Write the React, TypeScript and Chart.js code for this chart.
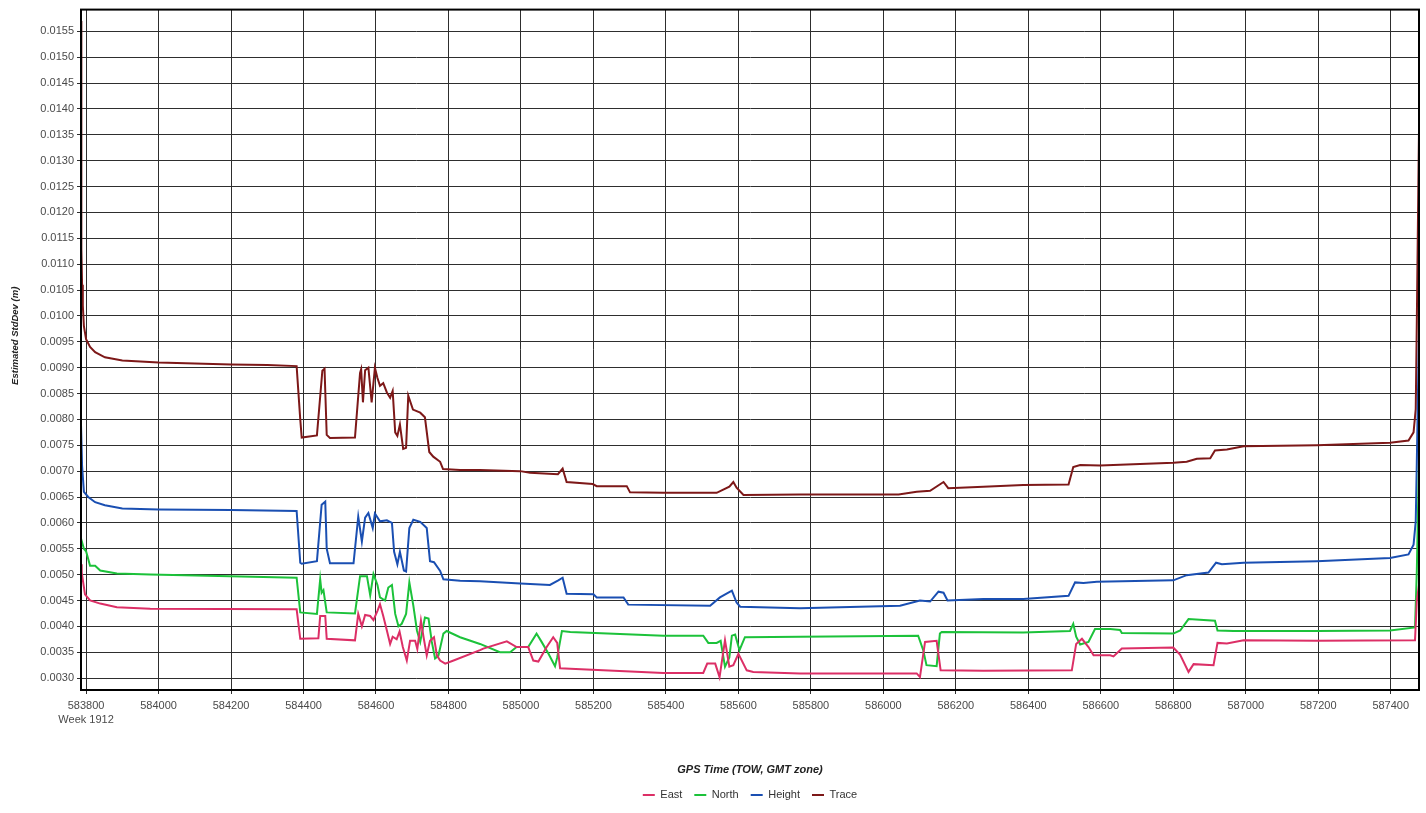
import React, { useEffect, useRef } from 'react';
import { Chart, registerables } from 'chart.js';

Chart.register(...registerables);

// ---- data (GPS time of week, seconds) ----
const traceTime = [583786, 583787, 583789, 583791, 583794, 583800, 583811, 583825, 583852, 583900, 584000, 584100, 584200, 584300, 584381, 584391, 584395, 584437, 584452, 584458, 584464, 584473, 584542, 584556, 584559, 584564, 584570, 584579, 584588, 584597, 584604, 584611, 584620, 584630, 584639, 584646, 584653, 584659, 584666, 584675, 584683, 584689, 584702, 584722, 584735, 584747, 584758, 584777, 584785, 584832, 584887, 584998, 585025, 585102, 585115, 585126, 585198, 585209, 585292, 585301, 585393, 585540, 585575, 585586, 585595, 585614, 585770, 586042, 586092, 586129, 586166, 586179, 586276, 586386, 586511, 586524, 586543, 586598, 586800, 586837, 586865, 586902, 586915, 586948, 586994, 587196, 587398, 587449, 587463, 587469, 587472, 587476, 587478];
const traceValue = [0.0157, 0.0113, 0.0106, 0.0102, 0.0098, 0.00955, 0.0094, 0.0093, 0.0092, 0.00914, 0.0091, 0.00908, 0.00906, 0.00905, 0.00903, 0.0080, 0.00765, 0.00769, 0.00894, 0.00898, 0.0077, 0.00764, 0.00765, 0.0089, 0.00897, 0.00833, 0.00895, 0.009, 0.00833, 0.009, 0.0088, 0.00865, 0.0087, 0.00852, 0.00842, 0.00855, 0.00775, 0.00768, 0.0079, 0.00743, 0.00745, 0.00846, 0.00819, 0.00813, 0.00804, 0.00737, 0.00728, 0.00718, 0.00704, 0.00702, 0.00702, 0.007, 0.00697, 0.00694, 0.00705, 0.00679, 0.00675, 0.00671, 0.00671, 0.00659, 0.00658, 0.00658, 0.0067, 0.00679, 0.00668, 0.00654, 0.00655, 0.00655, 0.0066, 0.00662, 0.00679, 0.00667, 0.0067, 0.00673, 0.00674, 0.00708, 0.00712, 0.00711, 0.00716, 0.00718, 0.00724, 0.00725, 0.0074, 0.00742, 0.00748, 0.0075, 0.00755, 0.00759, 0.00775, 0.0082, 0.0099, 0.0124, 0.0136];

const heightTime = [583786, 583789, 583794, 583806, 583825, 583852, 583900, 584000, 584200, 584381, 584391, 584395, 584437, 584450, 584460, 584464, 584473, 584538, 584551, 584561, 584570, 584579, 584591, 584597, 584611, 584630, 584644, 584650, 584659, 584666, 584677, 584683, 584692, 584703, 584722, 584740, 584749, 584760, 584777, 584786, 584832, 584887, 584998, 585080, 585103, 585115, 585126, 585200, 585209, 585283, 585296, 585522, 585549, 585582, 585595, 585605, 585770, 586046, 586101, 586129, 586152, 586166, 586177, 586276, 586386, 586511, 586529, 586552, 586589, 586800, 586837, 586897, 586918, 586934, 586994, 587196, 587398, 587449, 587463, 587469, 587472, 587478];
const heightValue = [0.0079, 0.0071, 0.0066, 0.0065, 0.0064, 0.00634, 0.00628, 0.00626, 0.00625, 0.00623, 0.00523, 0.00521, 0.00526, 0.00635, 0.00641, 0.0055, 0.00522, 0.00522, 0.00612, 0.00564, 0.0061, 0.00619, 0.0059, 0.00618, 0.00603, 0.00605, 0.006, 0.00544, 0.0052, 0.00544, 0.00508, 0.00506, 0.0059, 0.00606, 0.00602, 0.0059, 0.00526, 0.00524, 0.00507, 0.00491, 0.00488, 0.00487, 0.00483, 0.0048, 0.00489, 0.00494, 0.00463, 0.00462, 0.00456, 0.00456, 0.00442, 0.0044, 0.00456, 0.00469, 0.00446, 0.00438, 0.00435, 0.0044, 0.0045, 0.00448, 0.00467, 0.00465, 0.0045, 0.00453, 0.00453, 0.00459, 0.00485, 0.00484, 0.00486, 0.00489, 0.00499, 0.00504, 0.00523, 0.0052, 0.00523, 0.00526, 0.00532, 0.00539, 0.00558, 0.00603, 0.00718, 0.0097];

const northTime = [583786, 583794, 583800, 583811, 583825, 583839, 583885, 583977, 584197, 584381, 584391, 584437, 584446, 584450, 584455, 584464, 584542, 584556, 584575, 584584, 584593, 584604, 584611, 584625, 584634, 584644, 584653, 584662, 584671, 584683, 584692, 584703, 584713, 584722, 584735, 584745, 584754, 584763, 584772, 584786, 584795, 584832, 584887, 584942, 584970, 584988, 585020, 585043, 585057, 585076, 585094, 585100, 585113, 585136, 585393, 585503, 585517, 585540, 585551, 585563, 585575, 585582, 585591, 585603, 585618, 585770, 586096, 586110, 586119, 586147, 586156, 586161, 586386, 586515, 586524, 586532, 586543, 586566, 586584, 586626, 586653, 586658, 586800, 586819, 586842, 586915, 586922, 586966, 587196, 587398, 587467, 587472, 587478];
const northValue = [0.0057, 0.0055, 0.00545, 0.00517, 0.00517, 0.00508, 0.00502, 0.005, 0.00497, 0.00494, 0.00427, 0.00424, 0.00491, 0.00465, 0.0047, 0.00427, 0.00425, 0.00497, 0.00497, 0.0046, 0.00501, 0.0048, 0.00456, 0.0045, 0.00475, 0.0048, 0.00424, 0.004, 0.00405, 0.00424, 0.00485, 0.0044, 0.00392, 0.0037, 0.00417, 0.00415, 0.0037, 0.00338, 0.00343, 0.00386, 0.00391, 0.00379, 0.00366, 0.0035, 0.0035, 0.0036, 0.0036, 0.00386, 0.0037, 0.00347, 0.00323, 0.0034, 0.00391, 0.00389, 0.00382, 0.00382, 0.00368, 0.00368, 0.00372, 0.00322, 0.0034, 0.00382, 0.00384, 0.00354, 0.00379, 0.0038, 0.00382, 0.00354, 0.00325, 0.00323, 0.00386, 0.00389, 0.00388, 0.00391, 0.00405, 0.0038, 0.00365, 0.0037, 0.00395, 0.00395, 0.00393, 0.00387, 0.00386, 0.00392, 0.00414, 0.00411, 0.00392, 0.00391, 0.00391, 0.00392, 0.00398, 0.00507, 0.0072];

const eastTime = [583786, 583788, 583797, 583811, 583839, 583885, 583977, 584381, 584391, 584441, 584446, 584460, 584464, 584542, 584551, 584561, 584570, 584584, 584593, 584604, 584611, 584620, 584630, 584639, 584646, 584657, 584665, 584674, 584685, 584694, 584708, 584714, 584724, 584731, 584740, 584749, 584760, 584768, 584777, 584791, 584814, 584887, 584896, 584961, 584988, 585020, 585034, 585048, 585071, 585089, 585100, 585108, 585136, 585393, 585503, 585514, 585536, 585548, 585563, 585575, 585586, 585600, 585623, 585641, 585770, 586092, 586101, 586115, 586147, 586158, 586276, 586520, 586532, 586548, 586566, 586580, 586626, 586635, 586658, 586800, 586819, 586842, 586856, 586911, 586922, 586948, 586994, 587196, 587467, 587472, 587478];
const eastValue = [0.0052, 0.00504, 0.00462, 0.0045, 0.00444, 0.00437, 0.00434, 0.00433, 0.00376, 0.00377, 0.0042, 0.0042, 0.00376, 0.00373, 0.00424, 0.004, 0.00422, 0.0042, 0.00412, 0.0043, 0.00443, 0.0042, 0.00392, 0.00366, 0.0038, 0.00375, 0.0039, 0.0036, 0.00334, 0.00372, 0.00372, 0.00356, 0.00411, 0.0038, 0.00344, 0.00372, 0.00379, 0.00344, 0.00334, 0.00328, 0.00334, 0.00354, 0.00357, 0.00371, 0.0036, 0.0036, 0.00334, 0.00332, 0.0036, 0.00379, 0.00368, 0.00319, 0.00318, 0.0031, 0.0031, 0.00328, 0.00328, 0.00302, 0.00373, 0.00322, 0.00325, 0.00347, 0.00315, 0.00312, 0.00309, 0.00309, 0.00302, 0.0037, 0.00372, 0.00315, 0.00314, 0.00315, 0.00366, 0.00376, 0.0036, 0.00344, 0.00344, 0.00342, 0.00357, 0.00359, 0.00345, 0.00312, 0.00327, 0.00325, 0.00368, 0.00367, 0.00373, 0.00372, 0.00373, 0.0045, 0.0048];

const seriesNames = ['East', 'North', 'Height', 'Trace'];
const seriesColors = ['#dc2f66', '#1cc23a', '#1a4fb2', '#7d1818'];
const xTitle = 'GPS Time (TOW, GMT zone)';
const yTitle = 'Estimated StdDev (m)';
const weekLabel = 'Week 1912';
const xFirstTick = 583800;

const FONT = "'Liberation Sans', Arial, sans-serif";

const toPoints = (t: number[], v: number[]) => t.map((x, i) => ({ x, y: v[i] }));

const framePlugin = {
  id: 'frame',
  afterDatasetsDraw(chart: any) {
    const { ctx, chartArea } = chart;
    ctx.save();
    ctx.strokeStyle = '#000';
    ctx.lineWidth = 2;
    ctx.strokeRect(chartArea.left, chartArea.top, chartArea.right - chartArea.left, chartArea.bottom - chartArea.top);
    ctx.restore();
  },
};

// y-axis title, drawn slightly above the plot centre as in the original
const yTitlePlugin = {
  id: 'yTitle',
  afterDraw(chart: any) {
    const { ctx, chartArea } = chart;
    ctx.save();
    ctx.translate(15, (chartArea.top + chartArea.bottom) / 2 - 14);
    ctx.rotate(-Math.PI / 2);
    ctx.font = `italic bold 9.5px ${FONT}`;
    ctx.fillStyle = '#222';
    ctx.textAlign = 'center';
    ctx.textBaseline = 'middle';
    ctx.fillText(yTitle, 0, 0);
    ctx.restore();
  },
};

export default function App() {
  const ref = useRef<HTMLCanvasElement | null>(null);

  useEffect(() => {
    if (!ref.current) return;
    const series = [
      toPoints(eastTime, eastValue),
      toPoints(northTime, northValue),
      toPoints(heightTime, heightValue),
      toPoints(traceTime, traceValue),
    ];
    const chart = new Chart(ref.current, {
      type: 'line',
      data: {
        datasets: seriesNames.map((name, i) => ({
          label: name,
          data: series[i],
          borderColor: seriesColors[i],
          backgroundColor: seriesColors[i],
          borderWidth: 2,
          pointRadius: 0,
          tension: 0,
        })),
      },
      options: {
        animation: false,
        responsive: true,
        maintainAspectRatio: false,
        layout: { padding: { left: 0, right: 7, top: 7, bottom: 2.5 } },
        plugins: {
          tooltip: { enabled: false },
          legend: {
            position: 'bottom',
            fullSize: false,
            labels: {
              boxWidth: 12,
              boxHeight: 2,
              padding: 12,
              color: '#333',
              font: { family: FONT, size: 11 },
              generateLabels: (c: any) =>
                Chart.defaults.plugins.legend.labels
                  .generateLabels(c)
                  .map((l: any) => ({ ...l, fillStyle: l.strokeStyle, lineWidth: 0 })),
            },
          },
        },
        scales: {
          x: {
            type: 'linear',
            min: 583786,
            max: 587478,
            afterFit: (s: any) => { s.height = 87.5; },
            border: { color: '#000', width: 2 },
            grid: { color: '#2e2e2e', lineWidth: 1, tickLength: 4, tickColor: '#2e2e2e' },
            ticks: {
              stepSize: 200,
              includeBounds: false,
              maxRotation: 0,
              autoSkip: false,
              padding: 5,
              color: '#4a4a4a',
              font: { family: FONT, size: 11, lineHeight: 1.27 },
              callback: (v: any) => (v === xFirstTick ? [String(v), weekLabel] : String(v)),
            },
            title: {
              display: true,
              text: xTitle,
              color: '#222',
              font: { family: FONT, size: 11, weight: 'bold', style: 'italic' },
              padding: { top: 0, bottom: 1 },
            },
          },
          y: {
            type: 'linear',
            min: 0.00277,
            max: 0.01592,
            afterFit: (s: any) => { s.width = 81; },
            border: { color: '#000', width: 2 },
            grid: { color: '#2e2e2e', lineWidth: 1, tickLength: 4, tickColor: '#2e2e2e' },
            ticks: {
              stepSize: 0.0005,
              includeBounds: false,
              autoSkip: false,
              padding: 3,
              color: '#4a4a4a',
              font: { family: FONT, size: 11 },
              callback: (v: any) => Number(v).toFixed(4),
            },
            title: { display: false },
          },
        },
      } as any,
      plugins: [framePlugin, yTitlePlugin],
    });
    return () => chart.destroy();
  }, []);

  return (
    <div style={{ position: 'fixed', left: 0, top: 0, width: 1426, height: 813, background: '#fff' }}>
      <canvas ref={ref} />
    </div>
  );
}
